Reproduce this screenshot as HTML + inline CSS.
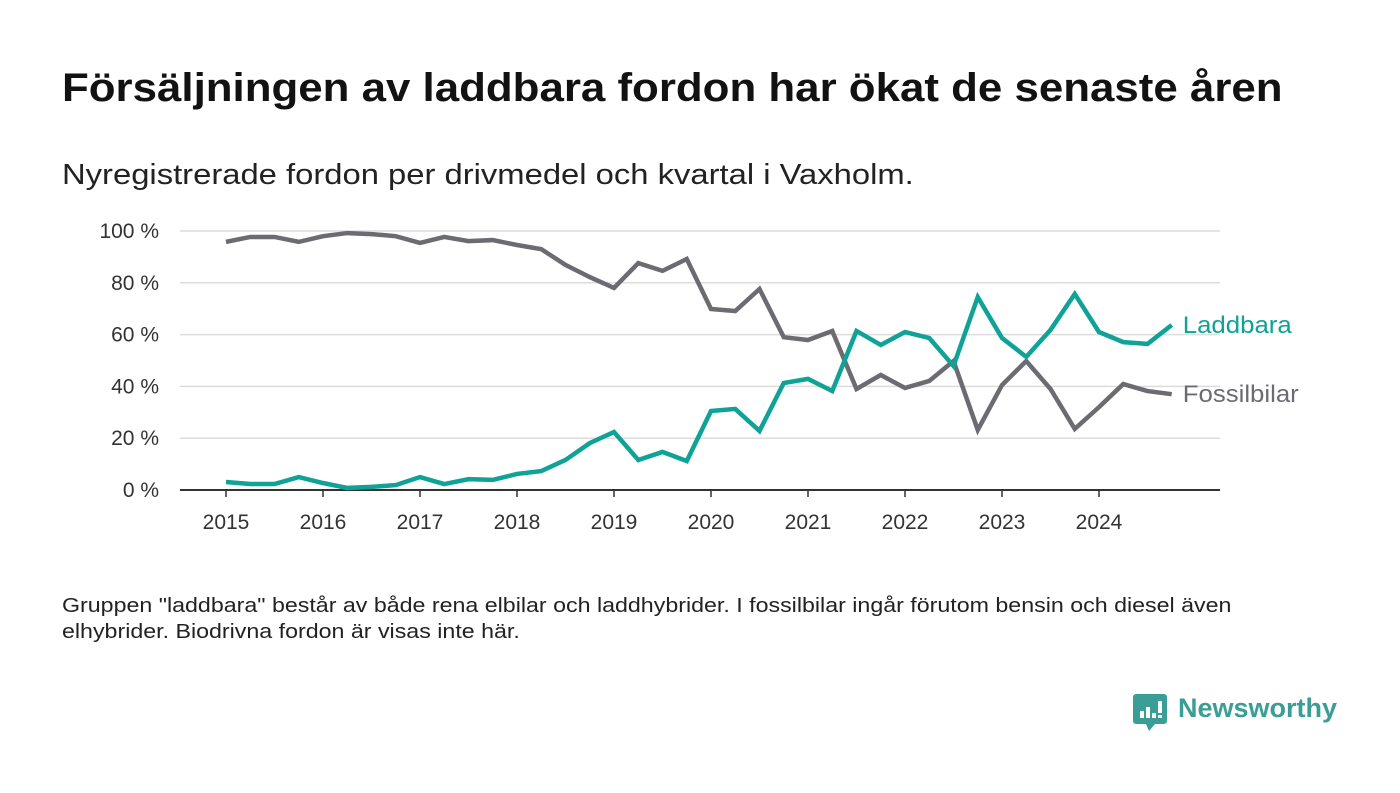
<!DOCTYPE html>
<html><head><meta charset="utf-8"><style>
body{margin:0;background:#fff;font-family:"Liberation Sans",sans-serif;}
#wrap{position:relative;width:1400px;height:793px;overflow:hidden;}
.t{position:absolute;white-space:nowrap;transform-origin:0 0;}
</style></head><body>
<div id="wrap">
<div class="t" style="left:62px;top:66px;font-size:40px;font-weight:bold;color:#121212;transform:scaleX(1.096);">Försäljningen av laddbara fordon har ökat de senaste åren</div>
<div class="t" style="left:62px;top:159px;font-size:29px;color:#222;transform:scaleX(1.13);">Nyregistrerade fordon per drivmedel och kvartal i Vaxholm.</div>
<svg id="chart" width="1400" height="560" style="position:absolute;left:0;top:0"></svg>
<div class="t" style="left:62px;top:593px;font-size:20px;line-height:26px;color:#222;transform:scaleX(1.16);">Gruppen "laddbara" består av både rena elbilar och laddhybrider. I fossilbilar ingår förutom bensin och diesel även<br>elhybrider. Biodrivna fordon är visas inte här.</div>
<div style="position:absolute;left:1133px;top:694px;">
<svg width="34" height="40" viewBox="0 0 34 40" style="position:absolute;left:0;top:0"><path d="M3 0H31a3 3 0 0 1 3 3V27a3 3 0 0 1-3 3H22l-6 7-3-7H3a3 3 0 0 1-3-3V3a3 3 0 0 1 3-3z" fill="#3a9e96"/><rect x="7" y="17" width="4" height="7" fill="#fff"/><rect x="13" y="13" width="4" height="11" fill="#fff"/><rect x="19" y="19" width="4" height="5" fill="#fff"/><rect x="25" y="7" width="4" height="12" fill="#fff"/><rect x="25" y="21" width="4" height="3" fill="#fff"/></svg>
<div class="t" style="left:45px;top:-1px;font-size:27px;font-weight:bold;color:#3a9e96;">Newsworthy</div>
</div>
</div>
<script>
const years=["2015","2016","2017","2018","2019","2020","2021","2022","2023","2024"];
const yTicks=[0,20,40,60,80,100];
const fossil=[95.8,97.7,97.7,95.8,98,99.2,98.8,98,95.4,97.7,96.1,96.5,94.6,93,86.9,82.2,78,87.6,84.6,89.2,69.9,69.1,77.6,59,57.9,61.4,39,44.4,39.4,42.1,49.8,23.2,40.5,49.8,39,23.6,32,40.9,38.2,37];
const laddbara=[3.1,2.3,2.3,5,2.7,0.8,1.2,1.9,5,2.3,4.2,3.9,6.2,7.3,11.6,18.1,22.4,11.6,14.7,11.2,30.5,31.3,22.8,41.3,42.9,38.2,61.4,56,61,58.7,47.9,74.5,58.7,51.4,61.8,75.7,61,57.1,56.4,63.7];
const NS="http://www.w3.org/2000/svg";
const svg=document.getElementById('chart');
const x=i=>226+i*24.25, y=v=>490-v*2.59;
function mk(t,a){const e=document.createElementNS(NS,t);for(const k in a)e.setAttribute(k,a[k]);svg.appendChild(e);return e;}
yTicks.forEach(v=>{
 if(v>0){const g=mk('line',{x1:180,x2:1220,y1:y(v),y2:y(v),stroke:'#dcdcdc','stroke-width':1.5});
 
 }
 const t=mk('text',{x:159,y:y(v)+7,'text-anchor':'end','font-size':21,fill:'#333','font-family':'Liberation Sans'});
 t.textContent=v+' %';
 
 
});
const ax=mk('line',{x1:180,x2:1220,y1:490,y2:490,stroke:'#333','stroke-width':2});


years.forEach((yr,i)=>{
 const px=x(i*4);
 const tk=mk('line',{x1:px,x2:px,y1:490,y2:497,stroke:'#333','stroke-width':1.5});
 
 
 const t=mk('text',{x:px,y:529,'text-anchor':'middle','font-size':21,fill:'#333','font-family':'Liberation Sans'});
 t.textContent=yr;
 
 
});
function line(d,c,name,label,w){
 const p=mk('polyline',{points:d.map((v,i)=>x(i)+','+y(v)).join(' '),fill:'none',stroke:c,'stroke-width':4.5,'stroke-linejoin':'miter'});
 
 
 const t=mk('text',{x:x(d.length-1)+11,y:y(d[d.length-1])+8,'font-size':24,fill:c,'font-family':'Liberation Sans',textLength:w,lengthAdjust:'spacingAndGlyphs'});
 t.textContent=label;
 
 
}
line(fossil,'#6d6b72','fossilbilar-line','Fossilbilar',116);
line(laddbara,'#0fa296','laddbara-line','Laddbara',109);
</script>
</body></html>
